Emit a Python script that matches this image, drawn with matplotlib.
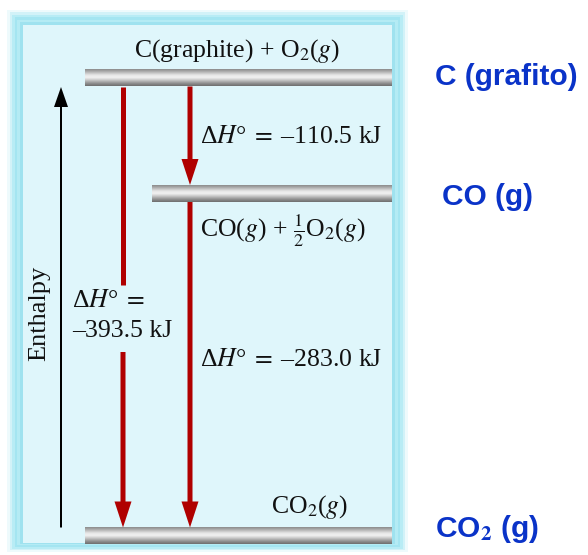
import numpy as np
import matplotlib
matplotlib.use("Agg")
import matplotlib.pyplot as plt
from matplotlib.colors import LinearSegmentedColormap
from matplotlib.patches import FancyArrow, Rectangle

# ---- data ----
level_names = [r"C(graphite) + O$_2$($g$)", r"CO($g$) + $\frac{1}{2}$O$_2$($g$)", r"CO$_2$($g$)"]
level_tags = ["C (grafito)", "CO (g)", r"CO$_\mathbf{2}$ (g)"]
enthalpy = [0.0, -110.5, -393.5]          # kJ, relative to C(graphite)+O2
dH_step1 = -110.5                          # C -> CO
dH_step2 = -283.0                          # CO -> CO2
dH_total = -393.5                          # C -> CO2
axis_label = "Enthalpy"

# ---- layout (pixels) ----
plt.rcParams['font.family'] = ['Liberation Serif', 'DejaVu Serif']
plt.rcParams['mathtext.fontset'] = 'stix'
W, H = 588, 555
fig = plt.figure(figsize=(W / 100, H / 100), dpi=100)
ax = fig.add_axes([0, 0, 1, 1])
ax.set_xlim(0, W)
ax.set_ylim(H, 0)
ax.axis('off')

# schematic level positions (not to scale, as in the original)
level_y = [78, 193.5, 536]
level_x0 = [85, 152, 85]
bar_x1 = 392
bar_h = 17

# frame
frame_cols = ['#eefafc', '#d2f2f8', '#b8ecf5', '#a4e5f1', '#b4ebf4', '#9fe2ef']
x0, y0, x1, y1 = 7, 10, 408, 552
for i, c in enumerate(frame_cols):
    d = i * 2.6
    ax.add_patch(Rectangle((x0 + d, y0 + d * 0.95), (x1 - x0) - 2 * d, (y1 - y0) - d * 1.6,
                           facecolor=c, edgecolor='none', zorder=0))
ax.add_patch(Rectangle((23, 25), 392 - 23, 543 - 25, facecolor='#dff6fb', edgecolor='none', zorder=0.5))

# gradient bars
cmap = LinearSegmentedColormap.from_list('metal', [
    (0.0, '#8c8c8c'), (0.12, '#a8a8a8'), (0.35, '#e6e6e6'), (0.5, '#f2f2f2'),
    (0.65, '#c8c8c8'), (0.85, '#8e8e8e'), (1.0, '#6e6e6e')])
grad = np.linspace(0, 1, 64).reshape(-1, 1)
for yc, xs in zip(level_y, level_x0):
    ax.imshow(grad, cmap=cmap, aspect='auto', extent=(xs, bar_x1, yc + bar_h / 2, yc - bar_h / 2),
              zorder=2, interpolation='bilinear')

red = '#b00000'
def arrow(x, ya, yb, color, w, hw, hl, head=True, z=3):
    if head:
        ax.add_patch(FancyArrow(x, ya, 0, yb - ya, width=w, head_width=hw, head_length=hl,
                                length_includes_head=True, color=color, lw=0, zorder=z))
    else:
        ax.plot([x, x], [ya, yb], color=color, lw=w * 0.72, solid_capstyle='butt', zorder=z)

top_b = level_y[0] + bar_h / 2
mid_t = level_y[1] - bar_h / 2
mid_b = level_y[1] + bar_h / 2
bot_t = level_y[2] - bar_h / 2

# total arrow (with gap for the label)
arrow(123, top_b, 285, red, 5, 17, 26, head=False)
arrow(123, 352, bot_t, red, 5, 17, 26)
# stepwise arrows
arrow(190, top_b, mid_t, red, 5, 17, 26)
arrow(190, mid_b, bot_t, red, 5, 17, 26)

# enthalpy axis arrow
arrow(61, bot_t, 87, 'black', 2, 14, 20)
ax.text(39, 313, axis_label, rotation=90, ha='center', va='center', fontsize=19, color='#111111')

fs = 18.5
tc = '#111111'
eq = r"Δ$H$°$\;=\;$"
def dh(v):
    return eq + f"–{abs(v):.1f} kJ"

ax.text(237, 57, level_names[0], ha='center', va='baseline', fontsize=fs, color=tc, zorder=4)
ax.text(200, 143, dh(dH_step1), ha='left', va='baseline', fontsize=fs, color=tc, zorder=4)
ax.text(200, 237, level_names[1], ha='left', va='baseline', fontsize=fs, color=tc, zorder=4)
ax.text(72, 307, eq, ha='left', va='baseline', fontsize=fs, color=tc, zorder=4)
ax.text(72, 337, f"–{abs(dH_total):.1f} kJ", ha='left', va='baseline', fontsize=fs, color=tc, zorder=4)
ax.text(200, 366, dh(dH_step2), ha='left', va='baseline', fontsize=fs, color=tc, zorder=4)
ax.text(310, 513, level_names[2], ha='center', va='baseline', fontsize=fs, color=tc, zorder=4)

# right-hand tags
blue = '#0a33c8'
tag_x = [435, 442, 435]
tag_base = [85, 205, 537]
for t, x, yb in zip(level_tags, tag_x, tag_base):
    ax.text(x, yb, t, ha='left', va='baseline', fontsize=21.5, fontweight='bold',
            family=['Liberation Sans', 'DejaVu Sans'], color=blue)

fig.savefig('out.png', dpi=100)
